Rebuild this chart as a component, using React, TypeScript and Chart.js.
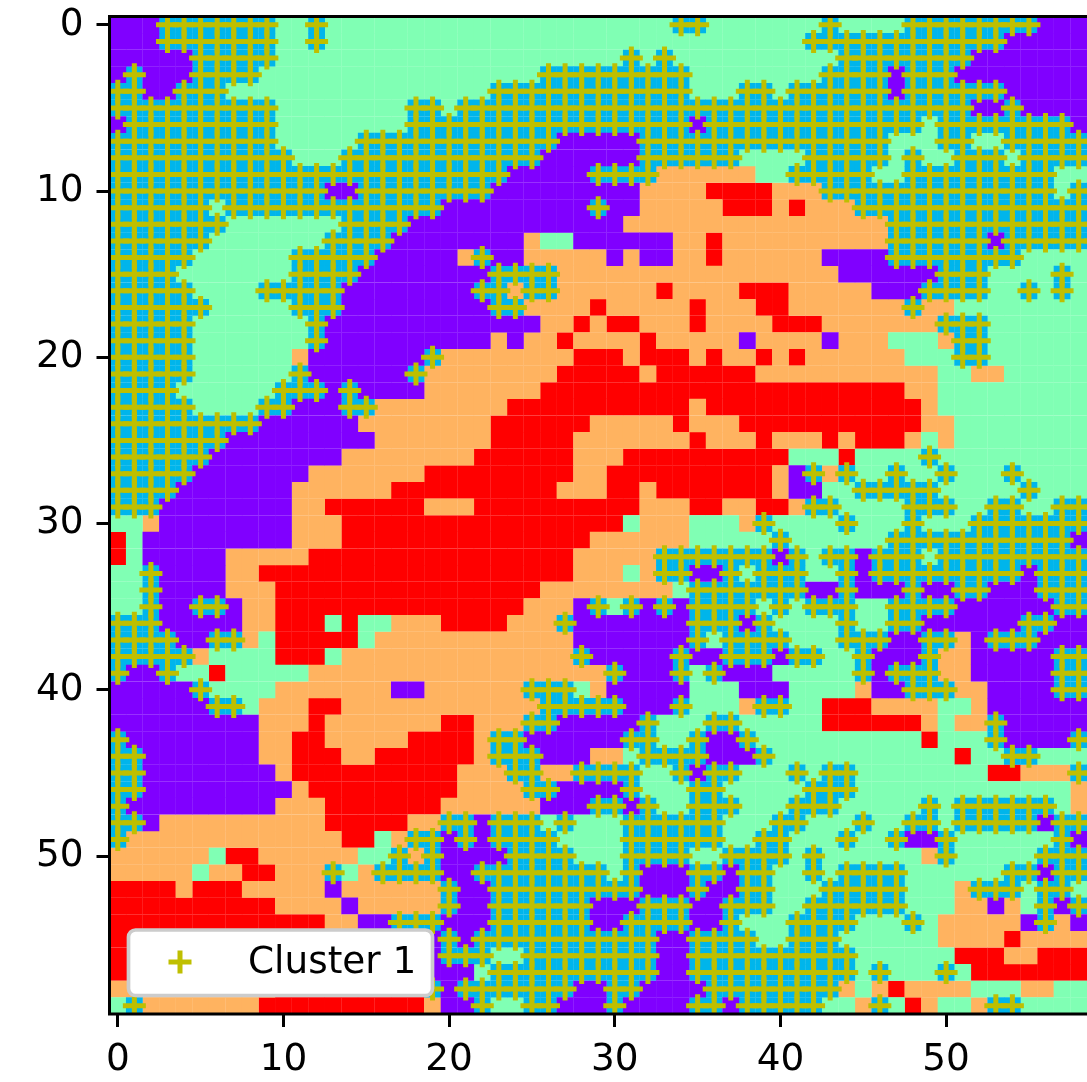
import React, { useEffect, useRef } from "react";
import { Chart, registerables } from "chart.js";

Chart.register(...registerables);

const tickValues = [0, 10, 20, 30, 40, 50];
const clusterKeys = ["p", "b", "g", "o", "r"];
const clusterColors = ["#8000ff", "#00b5eb", "#80ffb4", "#ffb360", "#ff0000"];
const markerKey = "b";
const markerLabel = "Cluster 1";
const markerColor = "#bfbf00";

// one string per row, 60 cells each (spaces only group runs)
const clusterRows = [
  "ppp bbbbbbb gg b ggggggg gggggggggggggg bb gggg ggg b gggg bbbbbbbb pppp",
  "ppp bbbbbbb gg b ggggggg gggggggggggggggggggg gg bbbbbbbbbbbb pppppp",
  "ppppp bbbbb gggggggggg ggggggggggg b g b gggggg gggg bbbbbbbb pppppppp",
  "p b ppp bbbb ggggggggggg gggggg bbbbbbbbb ggggg ggg bbbb p bbb ppppppppp",
  "bb pp bbb ggggggggggggg ggg bbbbbbbbbbbb ggg bb g bbbbbb p bbbbbb pppppp",
  "bbbbbbbbbb gggggggg bb g bbbbbbbbbbbbbbbbbbb bbbbbbbbbbbb pp b ppppp",
  "p bbbbbbbbb gggggggg bb bbbbbbbbbbbbbbb p bbbb bbbbbbbbb g bbbbbbbb pp",
  "bbbbbbbbbb ggggg bbbbb bbbbbbb ppppp bbbbbbbb bbbbbbb ggg bb gg bbbbbb",
  "bbbbbbbbbbb ggg bbbbbb bbbbbb pppppp bbbbbb gg gg bbbbb g b gg bbb g bbbbb",
  "bbbbbbbbbbbbbbbbbbbb bbbb ppppp bbbb oooooo g g bbbbb gg bbbbbbbbb ggg",
  "bbbbbbbbbbbbb pp bbbbb bbb ppppppppp oooo rrrr ooo bbbbbbbbbbbbbb g bb",
  "bbbbbb g bbbbbbbbbbbbb ppppppppp b pp ooooo rrr o r ooo bbbbbbbbbbbbbbb",
  "bbbbbbb ggggggg bbbb pp ppppppppppp ooooooooo ooooooo bbbbbbbbbbbbb",
  "bbbbbb ggggggg bbbb ppp ppppp o gg pppppp oo r ooo ooooooo bbbbbb p bbbbbb",
  "bbbbb gggggg bbbbb pppp p o b pp ooooo p o pp oo r ooo ooo pppp bbbbbbbb ggggg",
  "bbbb ggggggg bbbb ppppp ppp bbbb ooooooooooooo oooo pppppp bbb gggg b gg",
  "bbbbb gggg bbbbb pppppp pp bb o bb oooooo r oooo rr r ooooo ppp bbbb gg b g b gg",
  "bbbbbb ggggg bbb pppppp ppp bb oooo r ooooo r ooo r r ooooooo b oo ggggggggg",
  "bbbbb ggggggg b ppppppp pppppp oo r o rr ooo r oooo rrr ooooooo bbb ggggggg",
  "bbbbb ggggggg b ppppppp ppp o p oo r oooo r ooooo p o ooo p ooo ggg o bb ggggggg",
  "bbbbb gggggg o ppppppp b oooooooo rrr o rrr o r oo r o r oooooo ggg bb ggggggg",
  "bbbbb gggggg b pppppp b o ooooooo rrrrr o rrrrrr o oooooooooo gg oo gggggg",
  "bbbb gggggg bbb p b pppp o oooooo rrrrrrrrrrrrrr rrrrrrrr oo gggggggggg",
  "bbbbb gggg bb ppp bb oooo oooo rrrrrrrrrrr o rrrr rrrrrrrrr o gggggggggg",
  "bbbbbbbbb pppppp ooooo ooo rrrrrr ooooo r ooo rr rrrrrrrrr oo ggggggggg",
  "bbbbbbb ppppppppp oooo ooo rrrrr ooooooo r ooo r ooo r o rrr o g o ggggggggg",
  "bbbbbb pppppppp oooooo oo rrrrrr ooo rrrrrrrrr r ggg r gggg b gggggggggg",
  "bbbbb ppppppp ooooooo r rrrrrrrr oo rrrrrrrrrr o p b o b gg b gg b ggg b ggggg",
  "bbbb ppppppp oooooo rrr rrrrrrr ooo rr o rrrrrrr o pp gg bbbbb ggggg b gggg",
  "bbb pppppppp oo rrrrrr o oo rrrrrrrrrr ooo rr oo r r o bb gggg bbb gg bb gg bbb",
  "gg o pppppppp ooo rrrrrr rrrrrrrrrrr g ooo ggg o b gggg b ggg b ggg bbbbbbbb",
  "r g ppppppppp ooo rrrrrr rrrrrrrrr oooooo ggggg b gggggg bbbbbbbbbbb pp",
  "r g ppppp ooooo rrrrrrrr rrrrrrrr ooooo bbbbbbb p b g bb p bbb g bbbbbbbbbb",
  "gg b pppp oo rrrrrrrrrrr rrrrrrrr ooo g o bb pp b g b bb gg b p bbbbbbbbb p bbbb",
  "gg b pppp ooo rrrrrrrrrr rrrrrr oooooooo g bbbbb bb pp b ppp b pp bb ppp bbbb",
  "gg b pp bb p oo rrrrrrrrrr rrrrr ooo p b g b p b p bbbb g b g bbb gg bbbb pppppp bbb",
  "bbb ppppp oo rrr g r gg ooo rrrr ooo b ppppppp bbb p b gggg b gg bb pppppp bb ppp",
  "bbbb pp bb o g rrrrr g oooo oooooooo ppppppp b g bbb b ggg bbb pp bb o p bbb pppp",
  "bbbbb o gggg rrr g oooooo oooooooo b ppppp b pp bbb p bb gg b ppp b oo ppppp bbb",
  "b pp b gg r ggggg oooooooo oooooooooo b ppp b g b ppp ggggg b p bbb oo ppppp bbb",
  "ppppp b gggg ooooooo pp o ooooo bbb g o ppppp ggg pp p gggg o pp bbb oo pppp bbb",
  "pppppp bb g ooo rr oooooo oooooo bbbbb ppp b ggg o b b gg rrr oooo gg o ppppppp",
  "ppppppppp ooo r ooooooo rr ooo bb ppppp b ggg bb gg ggg rrrrrr o g oo b pppppp",
  "b pppppppp oo rr ooooo rr rr o bb pppppp bb gg b pp b g ggggggggg r ggg b pppp bb",
  "bb ppppppp oo rrr oo rrrr rr o bbb ppp oo g bbbb ppp b ggggggggggg r gg bb gggg",
  "bb pppppppp o rrrrrrrrr r ooo bb oo bbbb gg b p bb gg g b g bb gggggggg rr ooo bb",
  "bb ppppppppp o rrrrrrrr r oooo bb pppp b ggg bb ggg gg bbb ggggggggggggg oo",
  "b ppppppppp ooo rrrrrrr oooooo ppp bb p b gg bbb gg g bbb ggggg b g bbbbbb g oo",
  "bb p oooooooooo rrrrr oo bb p bbb g b ggg bbbbbb ggg bb ggg b gg bb g bbbbb p bbb",
  "b ooooooooooooo rr g o bb p b p bbbb gggg bbbbbb gg b b ggg b gg b pp b gggggg b pp",
  "oooooo g rr oooooo gg b o b pppp bbbb ggg bbbb gg bbb b g b gggggg o b ggggg bbbb",
  "ooooo g oo rr ooo b g o bbbb pp bbbbbbbb g b ppp bb p bb gg b g bbbb gggggg bb p bbb",
  "rrrr o rrr ooooo p oooooo b pp bbbbbbbbb ppp b pp bb ggg bbbbb ggg o bbb g bb gg",
  "rrrrrrrrrr oooo p ooooo b pp bbbbbb ppp bbb pp bbb gg bbbbbb ggg oo p o g b p bb",
  "rrrrrrrrrrrrr oo pp bbb ppp bbbbbb pp bbbb pp b gg g bbbb ggg b g ooooo p b o pp",
  "rrrrrrrrrrrrr ooo pppp b p bbbbbbbbbbb pp bbbb g g bbb gggggg oooo r ooooo",
  "rrrrrrrrrrrrr oooo ppp bbb gg bbbbbbbb pp bbbbb bbbbb gggggg rrr oo rrrr",
  "rrrrrrrrrrrrr oooo ppp pp g bbbbbbbbbb pp bbbbb bbbbb g b ggg b g rrrrrrrr",
  "o ooooooooo rrrrrrrrr b p bbbbbbb pp bb pppp bbbb bbbb o g o r oooo ggg oo ggg",
  "g b ooooooo rrrrrrrrrr o pp b gg bb ppp b pppp bb p bb bbb gg o b g r o gg o bb ggggg",
];

const gridRows = clusterRows.map((row) => row.replace(/ /g, ""));

function cellsFor(key: string) {
  const points: { x: number; y: number }[] = [];
  gridRows.forEach((row, y) => {
    for (let x = 0; x < row.length; x++) if (row[x] === key) points.push({ x, y });
  });
  return points;
}

const FONT = '"DejaVu Sans"';

const framePlugin = {
  id: "frameAndKey",
  afterDraw(chart: any) {
    const { ctx, chartArea: a } = chart;
    ctx.save();
    ctx.strokeStyle = "#000";
    ctx.lineWidth = 3;
    ctx.strokeRect(a.left, a.top, a.right - a.left, a.bottom - a.top);

    const bx = 128.5, by = 930, bw = 304, bh = 65.5;
    ctx.beginPath();
    ctx.roundRect(bx, by, bw, bh, 7);
    ctx.fillStyle = "#fff";
    ctx.fill();
    ctx.lineWidth = 3.7;
    ctx.strokeStyle = "#cccccc";
    ctx.stroke();

    ctx.strokeStyle = markerColor;
    ctx.lineWidth = 5;
    ctx.beginPath();
    ctx.moveTo(180 - 11.5, 962);
    ctx.lineTo(180 + 11.5, 962);
    ctx.moveTo(180, 962 - 11.5);
    ctx.lineTo(180, 962 + 11.5);
    ctx.stroke();

    ctx.fillStyle = "#000";
    ctx.font = `37.4px ${FONT}`;
    ctx.textAlign = "left";
    ctx.textBaseline = "alphabetic";
    ctx.fillText(markerLabel, 248, 973);
    ctx.restore();
  },
};

export default function App() {
  const ref = useRef<HTMLCanvasElement>(null);
  useEffect(() => {
    const tickOpts = {
      color: "#000",
      font: { family: FONT, size: 37.4 },
      autoSkip: false,
      maxRotation: 0,
      minRotation: 0,
    };
    const grid = {
      drawOnChartArea: false,
      drawTicks: true,
      tickLength: 13,
      tickWidth: 3,
      tickColor: "#000",
    };
    const setTicks = (s: any) => {
      s.ticks = tickValues.map((value) => ({ value }));
    };
    const clearPadding = (s: any) => {
      s.paddingTop = 0;
      s.paddingBottom = 0;
      s.paddingLeft = 0;
      s.paddingRight = 0;
    };
    const chart = new Chart(ref.current!, {
      type: "scatter",
      data: {
        datasets: [
          {
            label: markerLabel,
            data: cellsFor(markerKey),
            pointStyle: "cross",
            pointRadius: 11.5,
            pointBorderWidth: 5,
            pointBorderColor: markerColor,
            pointBackgroundColor: markerColor,
            order: 0,
          } as any,
          ...clusterKeys.map((key, i) => ({
            label: key,
            data: cellsFor(key),
            pointStyle: "rect",
            pointRadius: 11.9,
            pointBorderWidth: 0,
            pointBackgroundColor: clusterColors[i],
            order: 1,
          })),
        ],
      },
      options: {
        animation: false,
        responsive: false,
        events: [],
        layout: { padding: { left: 0, top: 15, right: 10.5, bottom: 0 } },
        plugins: { legend: { display: false }, tooltip: { enabled: false } },
        scales: {
          x: {
            type: "linear",
            position: "bottom",
            min: -0.5,
            max: 59.5,
            afterBuildTicks: setTicks,
            afterFit: (s: any) => {
              s.height = 68;
              clearPadding(s);
            },
            grid,
            border: { display: false },
            ticks: { ...tickOpts, padding: 11 },
          },
          y: {
            type: "linear",
            position: "left",
            reverse: true,
            min: -0.5,
            max: 59.5,
            afterBuildTicks: setTicks,
            afterFit: (s: any) => {
              s.width = 109.5;
              clearPadding(s);
            },
            grid,
            border: { display: false },
            ticks: { ...tickOpts, padding: 13 },
          },
        },
      },
      plugins: [framePlugin],
    } as any);
    return () => chart.destroy();
  }, []);
  return (
    <div
      style={{
        position: "fixed",
        left: 0,
        top: 0,
        width: 1087,
        height: 1082,
        overflow: "hidden",
        background: "#fff",
      }}
    >
      <canvas ref={ref} width={1120} height={1082} style={{ display: "block" }} />
    </div>
  );
}
